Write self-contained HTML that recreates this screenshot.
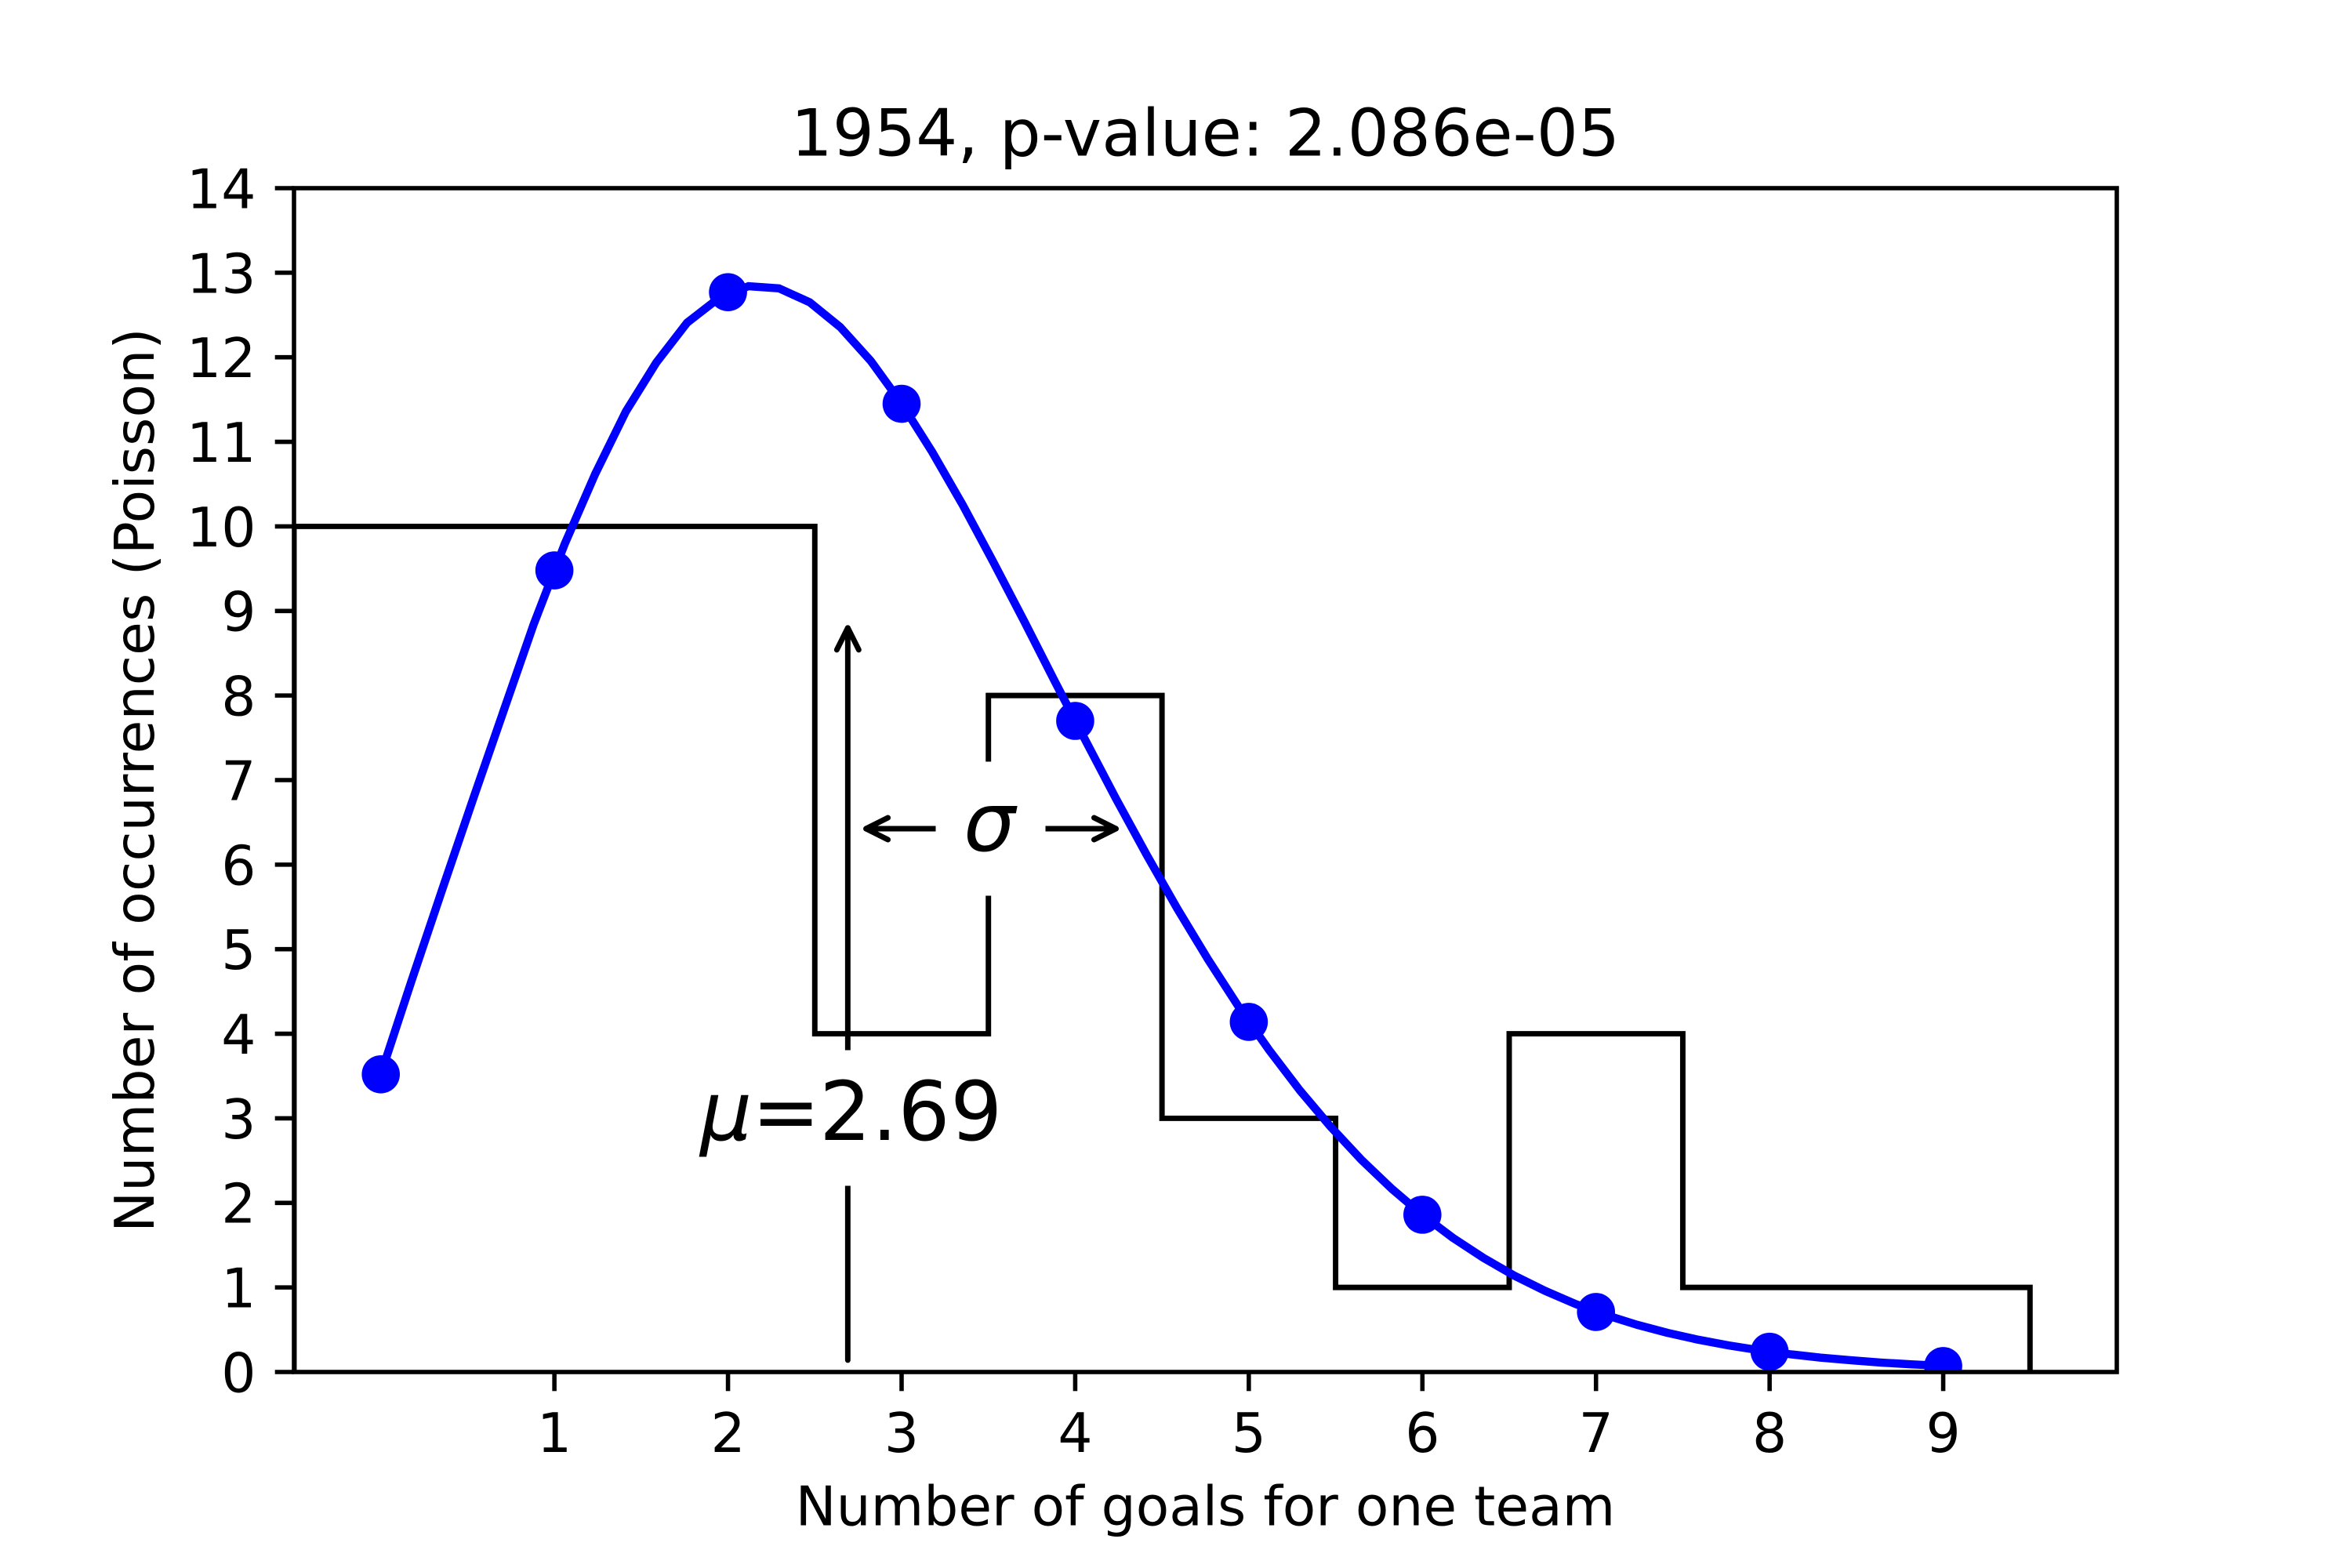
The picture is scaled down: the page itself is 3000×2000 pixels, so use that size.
<!DOCTYPE html>
<html lang="en">
<head>
<meta charset="utf-8">
<title>1954, p-value: 2.086e-05</title>
<style>
html,body{margin:0;padding:0;background:#fff;width:3000px;height:2000px;overflow:hidden}
svg{display:block}
text{font-family:"DejaVu Sans","Liberation Sans",sans-serif;fill:#000}
</style>
</head>
<body>
<svg id="chart" xmlns="http://www.w3.org/2000/svg" width="3000" height="2000" viewBox="0 0 3000 2000">
<defs><clipPath id="axes-clip"><rect x="375" y="240" width="2325" height="1510"></rect></clipPath></defs>
<rect x="0" y="0" width="3000" height="2000" fill="#ffffff"></rect>
</svg>
<script>
const xTickValues = [1, 2, 3, 4, 5, 6, 7, 8, 9];
const yTickValues = [0, 1, 2, 3, 4, 5, 6, 7, 8, 9, 10, 11, 12, 13, 14];
const histEdges = [-0.5, 0.5, 1.5, 2.5, 3.5, 4.5, 5.5, 6.5, 7.5, 8.5, 9.5];
const histCounts = [10, 10, 10, 4, 8, 3, 1, 4, 1, 1];
const pointGoals = [0, 1, 2, 3, 4, 5, 6, 7, 8, 9];
const pointValues = [3.52, 9.48, 12.77, 11.45, 7.70, 4.14, 1.86, 0.71, 0.24, 0.07];
const curveGoals = [0, 0.176, 0.353, 0.529, 0.706, 0.882, 1.059, 1.235, 1.412, 1.588, 1.765, 1.941, 2.118, 2.294, 2.471, 2.647, 2.824, 3, 3.176, 3.353, 3.529, 3.706, 3.882, 4.059, 4.235, 4.412, 4.588, 4.765, 4.941, 5.118, 5.294, 5.471, 5.647, 5.824, 6, 6.176, 6.353, 6.529, 6.706, 6.882, 7.059, 7.235, 7.412, 7.588, 7.765, 7.941, 8.118, 8.294, 8.471, 8.647, 8.824, 9];
const curveValues = [3.52, 4.62, 5.70, 6.76, 7.81, 8.85, 9.79, 10.62, 11.36, 11.94, 12.41, 12.69, 12.841, 12.815, 12.650, 12.356, 11.953, 11.454, 10.881, 10.250, 9.576, 8.879, 8.169, 7.470, 6.780, 6.115, 5.480, 4.880, 4.321, 3.805, 3.331, 2.901, 2.513, 2.166, 1.858, 1.586, 1.348, 1.140, 0.960, 0.804, 0.672, 0.559, 0.463, 0.382, 0.314, 0.257, 0.210, 0.170, 0.138, 0.111, 0.090, 0.072];
const muValue = ["2.69"];
const muArrowGoal = [2.69];
const muArrowRange = [0.14, 8.8];
const sigmaArrowRange = [2.795, 4.235];
const sigmaArrowLevel = [6.425];

const SVGNS = 'http://www.w3.org/2000/svg';
const chart = document.getElementById('chart');
const plotLeft = 375, plotRight = 2700, plotTop = 240, plotBottom = 1750;
const xMin = -0.5, xMax = 10, yMin = 0, yMax = 14;
function xScale(v) { return plotLeft + (v - xMin) / (xMax - xMin) * (plotRight - plotLeft); }
function yScale(v) { return plotBottom - (v - yMin) / (yMax - yMin) * (plotBottom - plotTop); }
function make(tag, attrs, text) {
  const el = document.createElementNS(SVGNS, tag);
  for (const k in attrs) el.setAttribute(k, attrs[k]);
  if (text !== undefined) el.textContent = text;
  chart.appendChild(el);
  return el;
}
let el;

/* histogram step outline */
let histPath = 'M' + xScale(histEdges[0]) + ' ' + yScale(0);
histCounts.forEach(function (c, i) {
  histPath += ' L' + xScale(histEdges[i]) + ' ' + yScale(c) + ' L' + xScale(histEdges[i + 1]) + ' ' + yScale(c);
});
histPath += ' L' + xScale(histEdges[histEdges.length - 1]) + ' ' + yScale(0);
el = make('path', { d: histPath, fill: 'none', stroke: '#000', 'stroke-width': 6.94, 'stroke-linejoin': 'miter', 'clip-path': 'url(#axes-clip)' });



/* Poisson curve */
el = make('polyline', {
  points: curveGoals.map(function (g, i) { return xScale(g) + ',' + yScale(curveValues[i]); }).join(' '),
  fill: 'none', stroke: '#0000ff', 'stroke-width': 10.4, 'stroke-linejoin': 'round', 'stroke-linecap': 'butt', 'clip-path': 'url(#axes-clip)'
});



/* Poisson points */
pointGoals.forEach(function (g, i) {
  const dot = make('circle', { cx: xScale(g), cy: yScale(pointValues[i]), r: 24.3, fill: '#0000ff', 'clip-path': 'url(#axes-clip)' });
  
  
});

/* arrow helper geometry */
function arrowHead(tipX, tipY, dirX, dirY) {
  const L = 28, W = 14;
  const bx = tipX - dirX * L, by = tipY - dirY * L;
  return 'M' + (bx - dirY * W) + ' ' + (by + dirX * W) + ' L' + tipX + ' ' + tipY + ' L' + (bx + dirY * W) + ' ' + (by - dirX * W);
}
const arrowStyle = { fill: 'none', stroke: '#000', 'stroke-width': 6.94, 'stroke-linecap': 'round', 'stroke-linejoin': 'round' };

/* mu arrow */
el = make('line', Object.assign({ x1: xScale(muArrowGoal[0]), y1: yScale(muArrowRange[0]), x2: xScale(muArrowGoal[0]), y2: yScale(muArrowRange[1]) }, arrowStyle));


el = make('path', Object.assign({ d: arrowHead(xScale(muArrowGoal[0]), yScale(muArrowRange[1]), 0, -1) }, arrowStyle));


el = make('rect', { x: 880, y: 1339.5, width: 410, height: 173, fill: '#fff' });



/* mu label */
el = make('text', { x: 893, y: 1454, 'font-size': 104.17, 'font-style': 'italic' }, 'μ');


el = make('text', { x: 959, y: 1454, 'font-size': 104.17 }, '=');


el = make('text', { x: 1045, y: 1454, 'font-size': 104.17, 'letter-spacing': 0.5 }, muValue[0]);



/* sigma arrows */
const sigmaCentre = (sigmaArrowRange[0] + sigmaArrowRange[1]) / 2;
el = make('line', Object.assign({ x1: xScale(sigmaCentre), y1: yScale(sigmaArrowLevel[0]), x2: xScale(sigmaArrowRange[0]), y2: yScale(sigmaArrowLevel[0]) }, arrowStyle));


el = make('path', Object.assign({ d: arrowHead(xScale(sigmaArrowRange[0]), yScale(sigmaArrowLevel[0]), -1, 0) }, arrowStyle));


el = make('line', Object.assign({ x1: xScale(sigmaCentre), y1: yScale(sigmaArrowLevel[0]), x2: xScale(sigmaArrowRange[1]), y2: yScale(sigmaArrowLevel[0]) }, arrowStyle));


el = make('path', Object.assign({ d: arrowHead(xScale(sigmaArrowRange[1]), yScale(sigmaArrowLevel[0]), 1, 0) }, arrowStyle));


el = make('rect', { x: 1193.5, y: 971.5, width: 140, height: 171, fill: '#fff' });


el = make('text', { x: 1229, y: 1085, 'font-size': 104.17, 'font-style': 'italic' }, 'σ');



/* axes frame */
el = make('rect', { x: plotLeft, y: plotTop, width: plotRight - plotLeft, height: plotBottom - plotTop, fill: 'none', stroke: '#000', 'stroke-width': 5.56 });



/* ticks and tick labels */
xTickValues.forEach(function (v) {
  const t = make('line', { x1: xScale(v), x2: xScale(v), y1: plotBottom, y2: plotBottom + 24.3, stroke: '#000', 'stroke-width': 5.56 });
  
  
  const l = make('text', { x: xScale(v), y: 1852, 'font-size': 69.44, 'text-anchor': 'middle' }, String(v));
  
  
});
yTickValues.forEach(function (v) {
  const t = make('line', { x1: plotLeft - 24.3, x2: plotLeft, y1: yScale(v), y2: yScale(v), stroke: '#000', 'stroke-width': 5.56 });
  
  
  const l = make('text', { x: 326.4, y: yScale(v) + 25.4, 'font-size': 69.44, 'text-anchor': 'end' }, String(v));
  
  
});

/* titles */
el = make('text', { x: 1537.5, y: 198.3, 'font-size': 83.33, 'text-anchor': 'middle', 'letter-spacing': 0.15 }, '1954, p-value: 2.086e-05');


el = make('text', { x: 1537.5, y: 1945.5, 'font-size': 69.44, 'text-anchor': 'middle' }, 'Number of goals for one team');


el = make('text', { x: 196, y: 995, 'font-size': 69.44, 'text-anchor': 'middle', 'letter-spacing': 0.2, transform: 'rotate(-90 196 995)' }, 'Number of occurrences (Poisson)');


</script>
</body>
</html>
